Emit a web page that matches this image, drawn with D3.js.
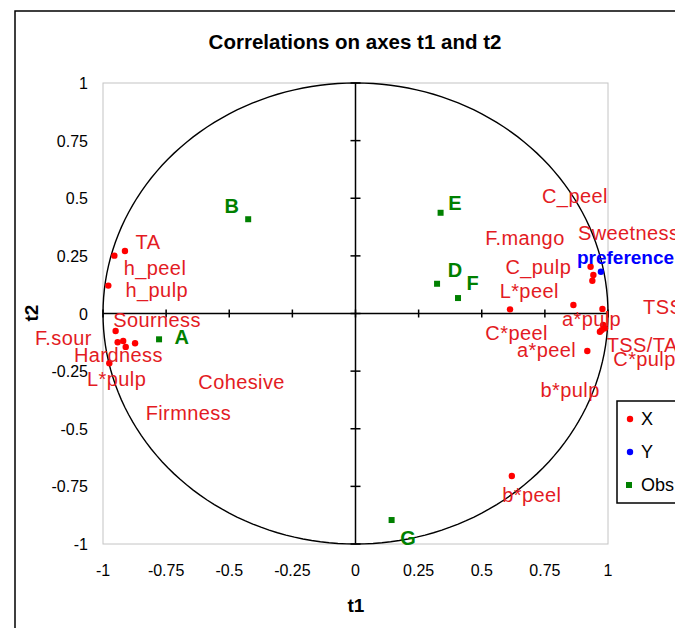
<!DOCTYPE html>
<html lang="en">
<head>
<meta charset="UTF-8">
<title>Correlations on axes t1 and t2</title>
<style>
  body { margin: 0; background: #fff; }
  text { font-family: "Liberation Sans", Arial, sans-serif; }
</style>
</head>
<body>
<svg></svg>
<script src="https://d3js.org/d3.v7.min.js"></script>
<script>
// active variables (X)
var xNames = ["TA","h_peel","h_pulp","Sourness","F.sour","Hardness","Firmness","Cohesive","L*pulp",
              "C_peel","Sweetness","F.mango","C_pulp","L*peel","a*pulp","TSS","TSS/TA","b*pulp",
              "C*pulp","C*peel","a*peel","b*peel"];
var xT1 = [-0.913,-0.955,-0.979,-0.950,-0.942,-0.920,-0.910,-0.873,-0.975,
           0.931,0.942,0.938,0.863,0.612,0.978,0.981,0.988,0.984,0.975,0.968,0.918,0.619];
var xT2 = [0.271,0.251,0.121,-0.076,-0.125,-0.119,-0.145,-0.129,-0.216,
           0.203,0.167,0.142,0.037,0.018,0.020,-0.050,-0.064,-0.059,-0.072,-0.079,-0.163,-0.705];
// label spots (in t1/t2 units)
var xLabT1 = [-0.822,-0.794,-0.787,-0.786,-1.157,-0.939,-0.662,-0.451,-0.946,
              0.869,0.881,0.671,0.724,0.688,0.935,1.139,0.995,0.850,1.021,0.638,0.757,0.698];
var xLabT2 = [0.311,0.196,0.102,-0.028,-0.108,-0.180,-0.433,-0.296,-0.284,
              0.510,0.348,0.326,0.200,0.099,-0.025,0.028,-0.137,-0.332,-0.199,-0.086,-0.158,-0.787];
var xLabStart = ["Sweetness","TSS","TSS/TA","C*pulp"];

// supplementary variable (Y)
var yNames = ["preference"];
var yT1 = [0.972];
var yT2 = [0.181];
var yLabT1 = [0.877];
var yLabT2 = [0.245];

// observations
var obsNames = ["A","B","D","E","F","G"];
var obsT1 = [-0.778,-0.425,0.323,0.337,0.406,0.143];
var obsT2 = [-0.112,0.409,0.129,0.437,0.067,-0.896];
var obsLabT1 = [-0.688,-0.490,0.394,0.394,0.464,0.208];
var obsLabT2 = [-0.102,0.468,0.189,0.479,0.134,-0.974];

var ticks = [-1,-0.75,-0.5,-0.25,0,0.25,0.5,0.75,1];
var legendNames = ["X","Y","Obs"];
var legendColors = ["#ff0000","#0000ff","#008000"];

var W = 675, H = 628;
var svg = d3.select("svg").attr("width", W).attr("height", H);

var x = d3.scaleLinear().domain([-1, 1]).range([103, 608]);
var y = d3.scaleLinear().domain([-1, 1]).range([544, 83]);

// outer chart border (runs off the right/bottom)
svg.append("rect")
  .attr("x", 15).attr("y", 11).attr("width", 720).attr("height", 700)
  .attr("fill", "#fff").attr("stroke", "#000").attr("stroke-width", 1.5);

svg.append("text")
  .attr("x", 355).attr("y", 49)
  .attr("text-anchor", "middle")
  .attr("font-size", "20.5px").attr("font-weight", "bold")
  .text("Correlations on axes t1 and t2");

// plot frame
svg.append("rect")
  .attr("x", x(-1)).attr("y", y(1))
  .attr("width", x(1) - x(-1)).attr("height", y(-1) - y(1))
  .attr("fill", "none").attr("stroke", "#c4c4c4").attr("stroke-width", 1);

// unit circle
var ang = d3.range(0, 361, 2);
svg.append("path")
  .datum(ang)
  .attr("d", d3.line()
    .x(function(a){ return x(Math.cos(a * Math.PI / 180)); })
    .y(function(a){ return y(Math.sin(a * Math.PI / 180)); }))
  .attr("fill", "none").attr("stroke", "#000").attr("stroke-width", 1.4);

// axes through origin
var g = svg.append("g");
g.append("line")
  .attr("x1", x(-1)).attr("x2", x(1)).attr("y1", y(0)).attr("y2", y(0))
  .attr("stroke", "#000").attr("stroke-width", 1.5);
g.append("line")
  .attr("x1", x(0)).attr("x2", x(0)).attr("y1", y(1)).attr("y2", y(-1))
  .attr("stroke", "#000").attr("stroke-width", 1.5);
g.selectAll(".tx").data(ticks).enter().append("line")
  .attr("x1", function(d){ return x(d); }).attr("x2", function(d){ return x(d); })
  .attr("y1", y(0) - 4).attr("y2", y(0) + 4)
  .attr("stroke", "#000").attr("stroke-width", 1.5);
g.selectAll(".ty").data(ticks).enter().append("line")
  .attr("x1", x(0) - 5).attr("x2", x(0) + 5)
  .attr("y1", function(d){ return y(d); }).attr("y2", function(d){ return y(d); })
  .attr("stroke", "#000").attr("stroke-width", 1.5);

// tick labels
svg.selectAll(".xl").data(ticks).enter().append("text")
  .attr("x", function(d){ return x(d); }).attr("y", 576)
  .attr("text-anchor", "middle").attr("font-size", "16px")
  .text(function(d){ return d; });
svg.selectAll(".yl").data(ticks).enter().append("text")
  .attr("x", 88).attr("y", function(d){ return y(d) + 6; })
  .attr("text-anchor", "end").attr("font-size", "16px")
  .text(function(d){ return d; });

svg.append("text").attr("x", 356).attr("y", 612)
  .attr("text-anchor", "middle").attr("font-size", "19px").attr("font-weight", "bold")
  .text("t1");
svg.append("text")
  .attr("transform", "translate(38,313) rotate(-90)")
  .attr("text-anchor", "middle").attr("font-size", "19px").attr("font-weight", "bold")
  .text("t2");

// X variables
svg.selectAll(".xp").data(xNames).enter().append("circle")
  .attr("cx", function(d, i){ return x(xT1[i]); })
  .attr("cy", function(d, i){ return y(xT2[i]); })
  .attr("r", 3.2).attr("fill", "#ff0000");
svg.selectAll(".xt").data(xNames).enter().append("text")
  .attr("x", function(d, i){ return x(xLabT1[i]); })
  .attr("y", function(d, i){ return y(xLabT2[i]); })
  .attr("dy", "0.35em")
  .attr("text-anchor", function(d){ return xLabStart.indexOf(d) >= 0 ? "start" : "middle"; })
  .attr("font-size", "20px").attr("letter-spacing", "0.4px")
  .attr("fill", "#e31b23")
  .text(function(d){ return d; });

// Y variable
svg.selectAll(".yp").data(yNames).enter().append("circle")
  .attr("cx", function(d, i){ return x(yT1[i]); })
  .attr("cy", function(d, i){ return y(yT2[i]); })
  .attr("r", 3.2).attr("fill", "#0000ff");
svg.selectAll(".yt").data(yNames).enter().append("text")
  .attr("x", function(d, i){ return x(yLabT1[i]); })
  .attr("y", function(d, i){ return y(yLabT2[i]); })
  .attr("dy", "0.35em")
  .attr("font-size", "19px").attr("font-weight", "bold")
  .attr("fill", "#0000ff")
  .text(function(d){ return d; });

// observations
svg.selectAll(".op").data(obsNames).enter().append("rect")
  .attr("x", function(d, i){ return x(obsT1[i]) - 3; })
  .attr("y", function(d, i){ return y(obsT2[i]) - 3; })
  .attr("width", 6).attr("height", 6).attr("fill", "#008000");
svg.selectAll(".ot").data(obsNames).enter().append("text")
  .attr("x", function(d, i){ return x(obsLabT1[i]); })
  .attr("y", function(d, i){ return y(obsLabT2[i]); })
  .attr("dy", "0.35em").attr("text-anchor", "middle")
  .attr("font-size", "20px").attr("font-weight", "bold")
  .attr("fill", "#008000")
  .text(function(d){ return d; });

// legend
var lg = svg.append("g").attr("transform", "translate(617,401)");
lg.append("rect").attr("width", 100).attr("height", 102)
  .attr("fill", "#fff").attr("stroke", "#000").attr("stroke-width", 1.5);
legendNames.forEach(function(n, i){
  var cy = 18 + i * 33;
  if (n === "Obs") {
    lg.append("rect").attr("x", 9).attr("y", cy - 3).attr("width", 6).attr("height", 6)
      .attr("fill", legendColors[i]);
  } else {
    lg.append("circle").attr("cx", 13).attr("cy", cy).attr("r", 3.2).attr("fill", legendColors[i]);
  }
  lg.append("text").attr("x", 24).attr("y", cy).attr("dy", "0.35em")
    .attr("font-size", "18px").text(n);
});
</script>
</body>
</html>
